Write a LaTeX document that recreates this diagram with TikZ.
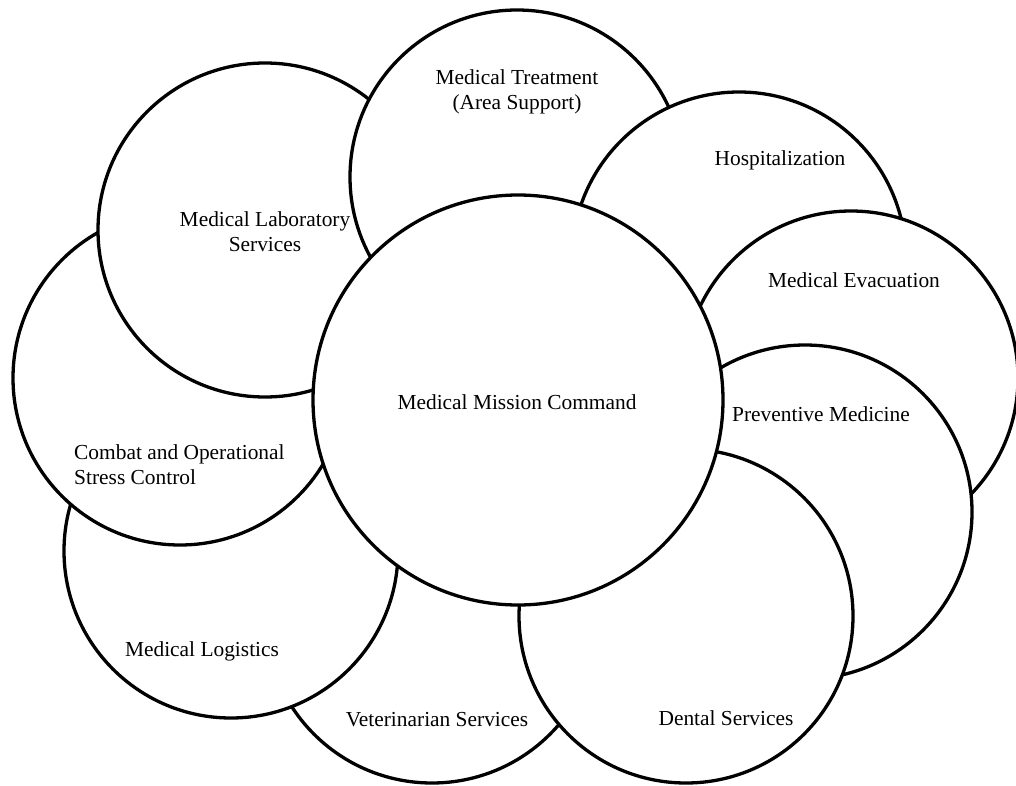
\documentclass[tikz,border=0pt]{standalone}
\usepackage{fontspec}
\setmainfont{Liberation Serif}
\begin{document}
\begin{tikzpicture}[x=1pt,y=-1pt,
  ring/.style={circle,draw=black,fill=white,line width=3.3pt,inner sep=0pt,minimum size=334pt},
  hub/.style={circle,draw=black,fill=white,line width=3.3pt,inner sep=0pt,minimum size=410pt},
  lbl/.style={align=center,inner sep=0pt,font=\fontsize{21.4}{25}\selectfont},
  lbll/.style={align=left,inner sep=0pt,font=\fontsize{21.4}{25}\selectfont}]
\useasboundingbox (0,0) rectangle (1016,786);
% circles, back to front
\node[ring] (vet) at (432,616) {};
\node[ring] (log) at (231,551) {};
\node[ring] (cosc) at (180,378) {};
\node[ring] (lab) at (265,230) {};
\node[ring] (treat) at (517,177) {};
\node[ring] (hosp) at (739,259) {};
\node[ring] (evac) at (851,378) {};
\node[ring] (prev) at (805,512) {};
\node[ring] (dent) at (686,616) {};
\node[hub] (mc) at (518,400) {};
% labels
\node[lbl] (tTreat) at (517,92) {Medical Treatment\\(Area Support)};
\node[lbl] (tLab) at (265,232) {Medical Laboratory\\Services};
\node[lbl] (tHosp) at (780,160) {Hospitalization};
\node[lbl] (tEvac) at (854,280) {Medical Evacuation};
\node[lbl] (tPrev) at (821,414) {Preventive Medicine};
\node[lbl] (tMC) at (517,402) {Medical Mission Command};
\node[lbll,anchor=west] (tCosc) at (74,465) {Combat and Operational\\Stress Control};
\node[lbl] (tLog) at (202,651) {Medical Logistics};
\node[lbl] (tVet) at (437,720) {Veterinarian Services};
\node[lbl] (tDent) at (726,718) {Dental Services};
\end{tikzpicture}
\end{document}
